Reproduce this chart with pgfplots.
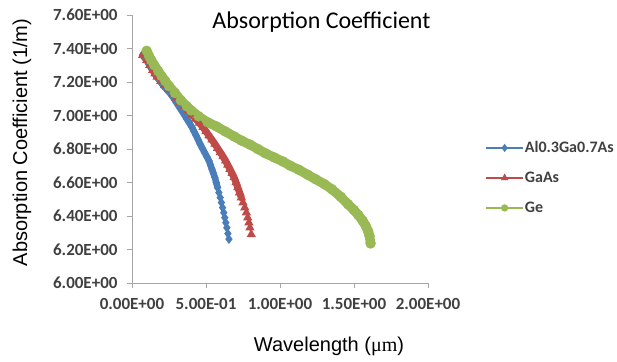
\documentclass[border=0pt]{standalone}
\usepackage{fontspec}
\setmainfont{Carlito}
\newfontfamily\arialf{Liberation Sans}
\newfontfamily\timesf{Liberation Serif}
\usepackage{pgfplots}
\usepackage{pgfplotstable}
\pgfplotsset{compat=1.18}
\definecolor{xblue}{HTML}{4A7EBB}
\definecolor{xred}{HTML}{BE4B48}
\definecolor{xgreen}{HTML}{98B954}
\definecolor{axgray}{HTML}{A6A6A6}
\definecolor{txt}{HTML}{404040}

\pgfplotstableread{
x y
0.075 7.365
0.100 7.330
0.120 7.300
0.140 7.270
0.155 7.250
0.170 7.230
0.190 7.205
0.210 7.180
0.235 7.155
0.260 7.130
0.280 7.105
0.298 7.080
0.316 7.055
0.335 7.030
0.353 7.005
0.370 6.980
0.388 6.955
0.405 6.930
0.419 6.905
0.433 6.880
0.447 6.855
0.460 6.830
0.475 6.805
0.490 6.780
0.505 6.755
0.520 6.730
0.530 6.705
0.540 6.680
0.550 6.655
0.560 6.630
0.569 6.600
0.578 6.570
0.587 6.540
0.596 6.510
0.604 6.480
0.612 6.450
0.620 6.420
0.627 6.390
0.634 6.360
0.641 6.330
0.648 6.295
0.655 6.262
}\algaas

\pgfplotstableread{
x y
0.072 7.360
0.100 7.330
0.120 7.300
0.140 7.270
0.155 7.250
0.170 7.230
0.195 7.205
0.220 7.180
0.248 7.155
0.275 7.130
0.302 7.105
0.328 7.080
0.354 7.055
0.380 7.030
0.405 7.005
0.430 6.980
0.455 6.955
0.480 6.930
0.500 6.905
0.520 6.880
0.540 6.855
0.560 6.830
0.578 6.805
0.597 6.780
0.615 6.755
0.632 6.730
0.647 6.705
0.662 6.680
0.676 6.655
0.690 6.630
0.703 6.600
0.715 6.570
0.727 6.540
0.739 6.510
0.750 6.480
0.762 6.450
0.773 6.420
0.782 6.390
0.790 6.360
0.797 6.330
0.806 6.290
}\gaas

\pgfplotstableread{
x y
0.099 7.386
0.115 7.355
0.130 7.330
0.150 7.300
0.177 7.265
0.200 7.235
0.225 7.205
0.250 7.175
0.290 7.135
0.330 7.090
0.370 7.055
0.400 7.030
0.450 6.995
0.510 6.960
0.570 6.935
0.630 6.905
0.690 6.875
0.740 6.850
0.800 6.825
0.850 6.800
0.900 6.775
0.960 6.750
1.020 6.725
1.070 6.700
1.130 6.675
1.190 6.645
1.240 6.620
1.300 6.590
1.350 6.560
1.410 6.515
1.460 6.470
1.500 6.435
1.530 6.405
1.560 6.370
1.580 6.340
1.595 6.310
1.605 6.280
1.612 6.236
}\ge

\begin{document}
\begin{tikzpicture}
\path[use as bounding box] (-132bp,-79bp) rectangle (485bp,283bp);
\begin{axis}[
  scale only axis, width=296bp, height=268bp,
  xmin=0, xmax=2, ymin=6, ymax=7.6,
  axis x line*=bottom, axis y line*=left,
  axis line style={axgray, line width=0.8bp},
  tick style={axgray, line width=0.8bp},
  tick align=outside, major tick length=5bp,
  xtick={0,0.5,1,1.5,2},
  xticklabels={0.00E+00,5.00E-01,1.00E+00,1.50E+00,2.00E+00},
  ytick={6,6.2,6.4,6.6,6.8,7,7.2,7.4,7.6},
  yticklabels={6.00E+00,6.20E+00,6.40E+00,6.60E+00,6.80E+00,7.00E+00,7.20E+00,7.40E+00,7.60E+00},
  ticklabel style={font=\fontsize{17bp}{20bp}\selectfont\bfseries, text=txt},
  xticklabel style={yshift=-7bp},
  yticklabel style={xshift=-6bp},
  xlabel={Wavelength ({\timesf μm})},
  ylabel={Absorption Coefficient (1/m)},
  xlabel style={at={(axis description cs:0.6655,-0.2350)}, anchor=center, font=\arialf\fontsize{20bp}{24bp}\selectfont},
  ylabel style={at={(axis description cs:-0.3716,0.5243)}, anchor=center, font=\arialf\fontsize{20bp}{24bp}\selectfont},
  title={Absorption Coefficient},
  title style={at={(axis description cs:0.640,0.926)}, anchor=base, font=\fontsize{24bp}{28bp}\selectfont},
  legend style={draw=none, fill=none, at={(axis description cs:1.193,0.392)}, anchor=west,
    font=\fontsize{16bp}{18bp}\selectfont\bfseries, text=txt, row sep=15bp, inner sep=0pt,
    nodes={inner sep=1bp, text height=11bp, text depth=2bp}},
  legend cell align=left,
  legend image code/.code={\draw[mark repeat=2, mark phase=2, #1, mark size=2.8bp] plot coordinates {(0bp,0bp) (18.5bp,0bp) (37bp,0bp)};},
]
\addplot[forget plot, xblue, line width=6.5bp, line join=round, line cap=round, restrict y to domain=6.56:8] table[x=x,y=y] {\algaas};
\addplot[xblue, line width=1.6bp, mark=diamond*, mark size=3.6bp] table[x=x,y=y] {\algaas};
\addlegendentry{Al0.3Ga0.7As}
\addplot[forget plot, xred, line width=7bp, line join=round, line cap=round, restrict y to domain=6.5:8] table[x=x,y=y] {\gaas};
\addplot[xred, line width=1.6bp, mark=triangle*, mark size=3.8bp] table[x=x,y=y] {\gaas};
\addlegendentry{GaAs}
\addplot[forget plot, xgreen, line width=9.5bp, line join=round, line cap=round] table[x=x,y=y] {\ge};
\addplot[xgreen, line width=1.6bp, mark=*, mark size=4.4bp] table[x=x,y=y] {\ge};
\addlegendentry{Ge}
\end{axis}
\end{tikzpicture}
\end{document}
